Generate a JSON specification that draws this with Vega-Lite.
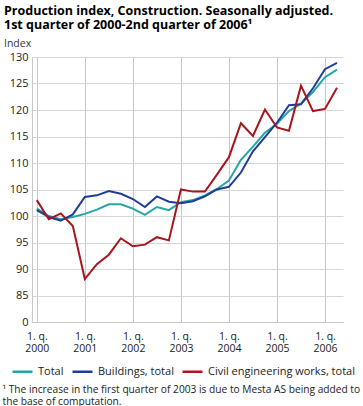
{
  "$schema": "https://vega.github.io/schema/vega-lite/v6.json",
  "width": 311,
  "height": 265,
  "autosize": "none",
  "padding": {"left": 32, "top": 57, "right": 20, "bottom": 84},
  "background": "white",
  "title": {
    "text": ["Production index, Construction. Seasonally adjusted.", "1st quarter of 2000-2nd quarter of 2006¹"],
    "subtitle": "Index",
    "anchor": "start",
    "frame": "group",
    "dx": -28,
    "offset": 2,
    "font": "Open Sans",
    "fontSize": 12.5,
    "fontWeight": "bold",
    "color": "#000000",
    "lineHeight": 14.5,
    "subtitleFont": "Open Sans",
    "subtitleFontSize": 10.5,
    "subtitleColor": "#333333",
    "subtitlePadding": 7
  },
  "config": {
    "view": {"stroke": null},
    "font": "Open Sans",
    "axis": {
      "labelFont": "Open Sans",
      "labelColor": "#222222",
      "domainColor": "#c8c8c8",
      "gridColor": "#d2d2d2",
      "tickColor": "#c8c8c8"
    }
  },
  "data": {
    "values": [
      {"t": 2000.0, "series": "Total", "value": 101.4},
      {"t": 2000.25, "series": "Total", "value": 100.0},
      {"t": 2000.5, "series": "Total", "value": 99.4},
      {"t": 2000.75, "series": "Total", "value": 99.8},
      {"t": 2001.0, "series": "Total", "value": 100.4},
      {"t": 2001.25, "series": "Total", "value": 101.2},
      {"t": 2001.5, "series": "Total", "value": 102.2},
      {"t": 2001.75, "series": "Total", "value": 102.2},
      {"t": 2002.0, "series": "Total", "value": 101.4},
      {"t": 2002.25, "series": "Total", "value": 100.2},
      {"t": 2002.5, "series": "Total", "value": 101.7},
      {"t": 2002.75, "series": "Total", "value": 101.1},
      {"t": 2003.0, "series": "Total", "value": 102.6},
      {"t": 2003.25, "series": "Total", "value": 103.0},
      {"t": 2003.5, "series": "Total", "value": 103.9},
      {"t": 2003.75, "series": "Total", "value": 105.1},
      {"t": 2004.0, "series": "Total", "value": 106.7},
      {"t": 2004.25, "series": "Total", "value": 110.6},
      {"t": 2004.5, "series": "Total", "value": 113.1},
      {"t": 2004.75, "series": "Total", "value": 115.7},
      {"t": 2005.0, "series": "Total", "value": 117.4},
      {"t": 2005.25, "series": "Total", "value": 119.8},
      {"t": 2005.5, "series": "Total", "value": 121.2},
      {"t": 2005.75, "series": "Total", "value": 123.4},
      {"t": 2006.0, "series": "Total", "value": 126.2},
      {"t": 2006.25, "series": "Total", "value": 127.6},
      {"t": 2000.0, "series": "Buildings, total", "value": 101.1},
      {"t": 2000.25, "series": "Buildings, total", "value": 99.8},
      {"t": 2000.5, "series": "Buildings, total", "value": 99.1},
      {"t": 2000.75, "series": "Buildings, total", "value": 100.3},
      {"t": 2001.0, "series": "Buildings, total", "value": 103.6},
      {"t": 2001.25, "series": "Buildings, total", "value": 103.9},
      {"t": 2001.5, "series": "Buildings, total", "value": 104.7},
      {"t": 2001.75, "series": "Buildings, total", "value": 104.2},
      {"t": 2002.0, "series": "Buildings, total", "value": 103.2},
      {"t": 2002.25, "series": "Buildings, total", "value": 101.7},
      {"t": 2002.5, "series": "Buildings, total", "value": 103.7},
      {"t": 2002.75, "series": "Buildings, total", "value": 102.7},
      {"t": 2003.0, "series": "Buildings, total", "value": 102.4},
      {"t": 2003.25, "series": "Buildings, total", "value": 102.8},
      {"t": 2003.5, "series": "Buildings, total", "value": 103.7},
      {"t": 2003.75, "series": "Buildings, total", "value": 105.0},
      {"t": 2004.0, "series": "Buildings, total", "value": 105.5},
      {"t": 2004.25, "series": "Buildings, total", "value": 108.2},
      {"t": 2004.5, "series": "Buildings, total", "value": 112.2},
      {"t": 2004.75, "series": "Buildings, total", "value": 114.9},
      {"t": 2005.0, "series": "Buildings, total", "value": 117.6},
      {"t": 2005.25, "series": "Buildings, total", "value": 120.9},
      {"t": 2005.5, "series": "Buildings, total", "value": 121.1},
      {"t": 2005.75, "series": "Buildings, total", "value": 124.1},
      {"t": 2006.0, "series": "Buildings, total", "value": 127.7},
      {"t": 2006.25, "series": "Buildings, total", "value": 128.9},
      {"t": 2000.0, "series": "Civil engineering works, total", "value": 103.0},
      {"t": 2000.25, "series": "Civil engineering works, total", "value": 99.4},
      {"t": 2000.5, "series": "Civil engineering works, total", "value": 100.5},
      {"t": 2000.75, "series": "Civil engineering works, total", "value": 98.1},
      {"t": 2001.0, "series": "Civil engineering works, total", "value": 88.1},
      {"t": 2001.25, "series": "Civil engineering works, total", "value": 90.9},
      {"t": 2001.5, "series": "Civil engineering works, total", "value": 92.7},
      {"t": 2001.75, "series": "Civil engineering works, total", "value": 95.8},
      {"t": 2002.0, "series": "Civil engineering works, total", "value": 94.3},
      {"t": 2002.25, "series": "Civil engineering works, total", "value": 94.6},
      {"t": 2002.5, "series": "Civil engineering works, total", "value": 96.0},
      {"t": 2002.75, "series": "Civil engineering works, total", "value": 95.4},
      {"t": 2003.0, "series": "Civil engineering works, total", "value": 105.0},
      {"t": 2003.25, "series": "Civil engineering works, total", "value": 104.6},
      {"t": 2003.5, "series": "Civil engineering works, total", "value": 104.6},
      {"t": 2003.75, "series": "Civil engineering works, total", "value": 107.8},
      {"t": 2004.0, "series": "Civil engineering works, total", "value": 111.1},
      {"t": 2004.25, "series": "Civil engineering works, total", "value": 117.5},
      {"t": 2004.5, "series": "Civil engineering works, total", "value": 115.1},
      {"t": 2004.75, "series": "Civil engineering works, total", "value": 120.1},
      {"t": 2005.0, "series": "Civil engineering works, total", "value": 116.7},
      {"t": 2005.25, "series": "Civil engineering works, total", "value": 116.1},
      {"t": 2005.5, "series": "Civil engineering works, total", "value": 124.6},
      {"t": 2005.75, "series": "Civil engineering works, total", "value": 119.8},
      {"t": 2006.0, "series": "Civil engineering works, total", "value": 120.2},
      {"t": 2006.25, "series": "Civil engineering works, total", "value": 124.2}
    ]
  },
  "mark": {"type": "line", "strokeWidth": 2, "clip": false},
  "encoding": {
    "x": {
      "field": "t",
      "type": "quantitative",
      "scale": {"domain": [1999.9, 2006.375], "nice": false, "zero": false},
      "axis": {
        "values": [2000, 2000.25, 2000.5, 2000.75, 2001, 2001.25, 2001.5, 2001.75, 2002, 2002.25, 2002.5, 2002.75, 2003, 2003.25, 2003.5, 2003.75, 2004, 2004.25, 2004.5, 2004.75, 2005, 2005.25, 2005.5, 2005.75, 2006, 2006.25],
        "format": "d",
        "labelExpr": "datum.value % 1 === 0 ? ['1. q.', datum.label] : ''",
        "labelOverlap": false,
        "labelFlush": false,
        "labelFontSize": 10.5,
        "labelLineHeight": 12,
        "labelPadding": 14,
        "tickSize": -5,
        "grid": true,
        "gridColor": "#c8c8c8",
        "gridOpacity": {"condition": {"test": "datum.value % 1 === 0", "value": 1}, "value": 0},
        "domainColor": "#c8c8c8",
        "title": ["¹ The increase in the first quarter of 2003 is due to Mesta AS being added to", "the base of computation."],
        "titleX": -30,
        "titleY": 62,
        "titleAnchor": "start",
        "titleAlign": "left",
        "titleBaseline": "top",
        "titleFont": "Open Sans",
        "titleFontSize": 10.2,
        "titleFontWeight": "normal",
        "titleColor": "#222222",
        "titleLimit": 400,
        "titleLineHeight": 12
      }
    },
    "y": {
      "field": "value",
      "type": "quantitative",
      "scale": {"domain": [80, 130], "nice": false, "zero": false},
      "axis": {
        "title": null,
        "values": [80, 85, 90, 95, 100, 105, 110, 115, 120, 125, 130],
        "labelExpr": "datum.value === 80 ? '0' : datum.label",
        "labelFontSize": 11,
        "labelPadding": 4,
        "ticks": false,
        "grid": true,
        "gridColor": "#d6d6d6",
        "domainColor": "#c8c8c8"
      }
    },
    "color": {
      "field": "series",
      "type": "nominal",
      "sort": ["Total", "Buildings, total", "Civil engineering works, total"],
      "scale": {
        "domain": ["Total", "Buildings, total", "Civil engineering works, total"],
        "range": ["#25a5a5", "#1f3d96", "#a8151b"]
      },
      "legend": {
        "title": null,
        "orient": "none",
        "legendX": -21,
        "legendY": 303,
        "direction": "horizontal",
        "padding": 0,
        "symbolType": "stroke",
        "symbolSize": 400,
        "symbolStrokeWidth": 2.5,
        "labelOffset": 4,
        "labelFont": "Open Sans",
        "labelFontSize": 11,
        "labelLimit": 300,
        "labelColor": "#222222",
        "columnPadding": 3
      }
    }
  }
}
